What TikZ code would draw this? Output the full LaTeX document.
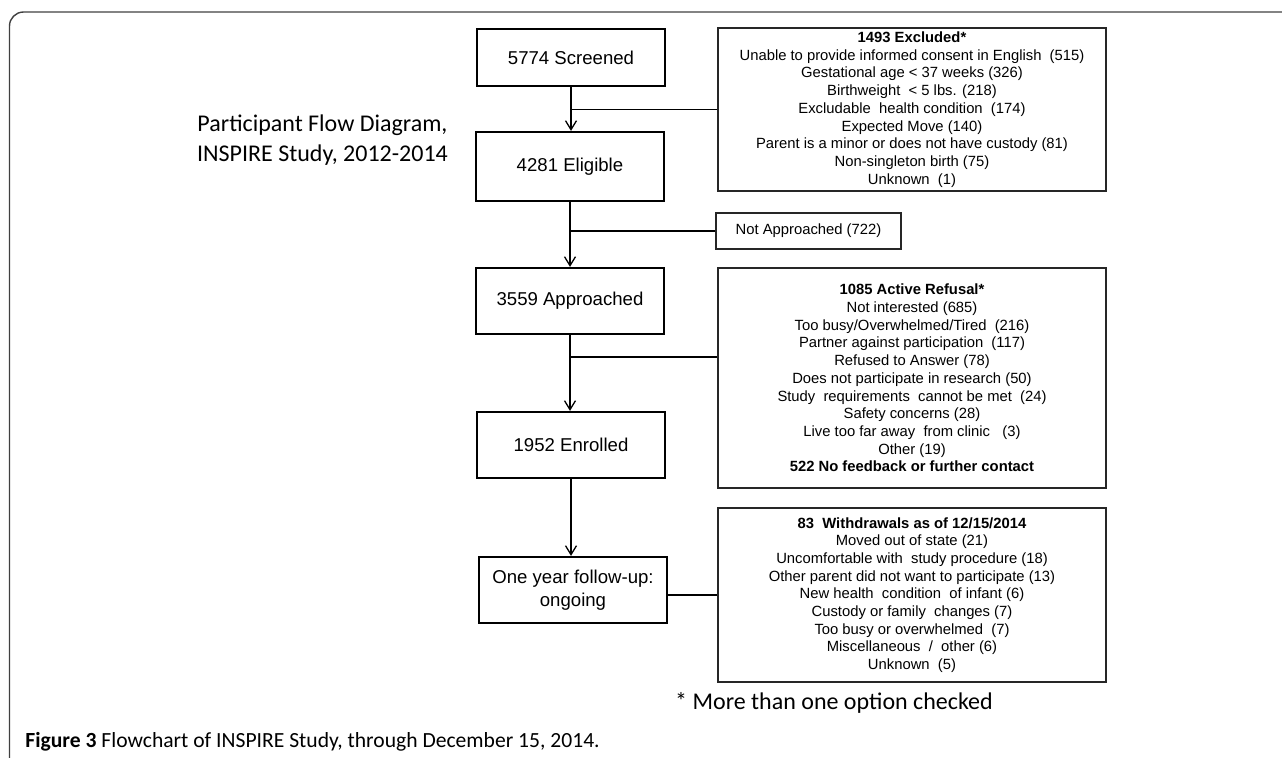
\documentclass[tikz,border=0pt]{standalone}
\usepackage{fontspec}
\setmainfont{Liberation Sans}
\newfontfamily\calibrifont{Carlito}
\usetikzlibrary{arrows.meta}

\begin{document}
\begin{tikzpicture}[x=0.5pt,y=-0.5pt,
    mainbox/.style={draw, line width=1.1pt, minimum width=94pt, inner sep=0pt, align=center, font=\fontsize{9.3}{11.35}\selectfont},
    sidebox/.style={draw=black!85, line width=0.6pt, minimum width=194pt, inner sep=0pt, align=center, font=\fontsize{7.4}{8.85}\selectfont},
    flow/.style={line width=0.65pt, -{Straight Barb[length=4.5pt,width=5.5pt]}},
    branch/.style={line width=0.65pt},
    note/.style={font=\calibrifont\fontsize{12}{14.8}\selectfont}]
    \useasboundingbox (0,0) rectangle (1282,757);

    % Frame
    \draw[black!75, line width=0.7pt, rounded corners=7pt] (9.5,800) -- (9.5,12) -- (1300,12);

    % Title
    \node[note, align=center] (title) at (322.5,140) {Participant Flow Diagram,\\INSPIRE Study, 2012-2014};

    % Main boxes
    \node[mainbox, minimum height=28.5pt] (screened) at (571,57.5) {5774 Screened};
    \node[mainbox, minimum height=34.5pt] (eligible) at (570,166.5) {4281 Eligible};
    \node[mainbox, minimum height=33pt] (approached) at (570,301) {3559 Approached};
    \node[mainbox, minimum height=33pt] (enrolled) at (571,445) {1952 Enrolled};
    \node[mainbox, minimum height=33pt] (followup) at (573,590) {One year follow-up:\\ongoing};

    % Side boxes
    \node[sidebox, minimum height=81.5pt] (excluded) at (912,109.5) {\textbf{1493 Excluded*}\\
        Unable to provide informed consent in English\ \ (515)\\
        Gestational age < 37 weeks (326)\\
        Birthweight\ \ < 5 lbs. (218)\\
        Excludable\ \ health condition\ \ (174)\\
        Expected Move (140)\\
        Parent is a minor or does not have custody (81)\\
        Non-singleton birth (75)\\
        Unknown\ \ (1)};
    \node[sidebox, minimum width=92.5pt, minimum height=18pt] (notapproached) at (808.5,231) {Not Approached (722)};
    \node[sidebox, minimum height=110pt] (refusal) at (912,378) {\textbf{1085 Active Refusal*}\\
        Not interested (685)\\
        Too busy/Overwhelmed/Tired\ \ (216)\\
        Partner against participation\ \ (117)\\
        Refused to Answer (78)\\
        Does not participate in research (50)\\
        Study\ \ requirements\ \ cannot be met\ \ (24)\\
        Safety concerns (28)\\
        Live too far away\ \ from clinic\ \ \ (3)\\
        Other (19)\\
        \textbf{522 No feedback or further contact}};
    \node[sidebox, minimum height=87pt] (withdrawals) at (912,595) {\textbf{83\ \ Withdrawals as of 12/15/2014}\\
        Moved out of state (21)\\
        Uncomfortable with\ \ study procedure (18)\\
        Other parent did not want to participate (13)\\
        New health\ \ condition\ \ of infant (6)\\
        Custody or family\ \ changes (7)\\
        Too busy or overwhelmed\ \ (7)\\
        Miscellaneous\ \ /\ \ other (6)\\
        Unknown\ \ (5)};

    % Connectors
    \draw[flow] (screened.south) -- (screened.south |- eligible.north);
    \draw[branch] (excluded.west) -- (excluded.west -| screened.south);
    \draw[flow] (eligible.south) -- (approached.north);
    \draw[branch] (notapproached.west) -- (notapproached.west -| eligible.south);
    \draw[flow] (approached.south) -- (approached.south |- enrolled.north);
    \coordinate (refusaljoin) at (570,357);
    \draw[branch] (refusaljoin) -- (refusaljoin -| refusal.west);
    \draw[flow] (enrolled.south) -- (enrolled.south |- followup.north);
    \draw[branch] (withdrawals.west) -- (withdrawals.west -| followup.east);

    % Notes
    \node[note, anchor=base, inner sep=0pt] (footnote) at (834,709) {* More than one option checked};
    \node[font=\calibrifont\fontsize{10.8}{12}\selectfont, anchor=base west, inner sep=0pt] (caption) at (25,747) {\textbf{Figure 3} Flowchart of INSPIRE Study, through December 15, 2014.};
\end{tikzpicture}
\end{document}
